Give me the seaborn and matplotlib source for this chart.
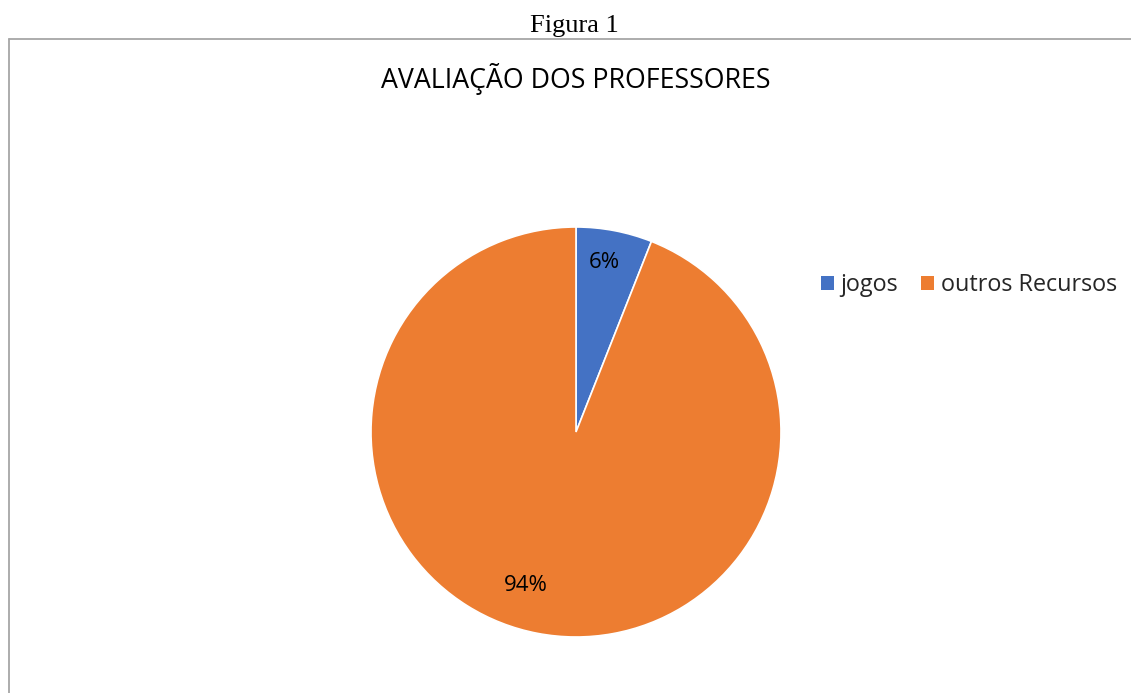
import matplotlib
matplotlib.use("Agg")
import matplotlib.pyplot as plt
import seaborn as sns
from matplotlib.lines import Line2D
from matplotlib.patches import Patch

# data
categorias = ["jogos", "outros Recursos"]
valores = [6, 94]
rotulos = ["6%", "94%"]
cores = ["#4472C4", "#ED7D31"]

sns.set_theme(style="white")
plt.rcParams['font.family'] = ['Open Sans', 'DejaVu Sans']

fig = plt.figure(figsize=(11.31, 6.93), dpi=100)
W, H = 1131, 693

# caption above the chart box
fig.text(574 / W, 1 - 26 / H, "Figura 1", ha="center", va="center",
         fontsize=19, family="Liberation Serif", color="black")

# chart box border (left and top edges visible)
fig.add_artist(Line2D([8.5 / W, 8.5 / W], [0, 1 - 38.5 / H], transform=fig.transFigure,
                      color="#A6A6A6", lw=1.3))
fig.add_artist(Line2D([8.5 / W, 1.0], [1 - 38.5 / H, 1 - 38.5 / H], transform=fig.transFigure,
                      color="#A6A6A6", lw=1.3))

fig.text(576 / W, 1 - 79 / H, "AVALIAÇÃO DOS PROFESSORES", ha="center", va="center",
         fontsize=19.3, color="black")

cx, cy, r = 576, 432, 205
ax = fig.add_axes([(cx - r) / W, 1 - (cy + r) / H, 2 * r / W, 2 * r / H])
wedges, _ = ax.pie(valores, colors=cores, startangle=90, counterclock=False,
                   wedgeprops=dict(edgecolor="white", linewidth=1.2))
ax.set_xlim(-1, 1)
ax.set_ylim(-1, 1)
ax.set_aspect("equal")
ax.axis("off")

# percentage labels
ax.text(0.137, 0.826, rotulos[0], ha="center", va="center", fontsize=16, color="black")
ax.text(-0.244, -0.747, rotulos[1], ha="center", va="center", fontsize=16, color="black")

handles = [Patch(facecolor=c, edgecolor="none") for c in cores]
fig.legend(handles, categorias, loc="center left", bbox_to_anchor=(800 / W, 1 - 285 / H),
           ncol=2, frameon=False, fontsize=16.8, handlelength=0.55, handleheight=0.55,
           handletextpad=0.28, columnspacing=1.0)

fig.savefig("out.png", dpi=100)
